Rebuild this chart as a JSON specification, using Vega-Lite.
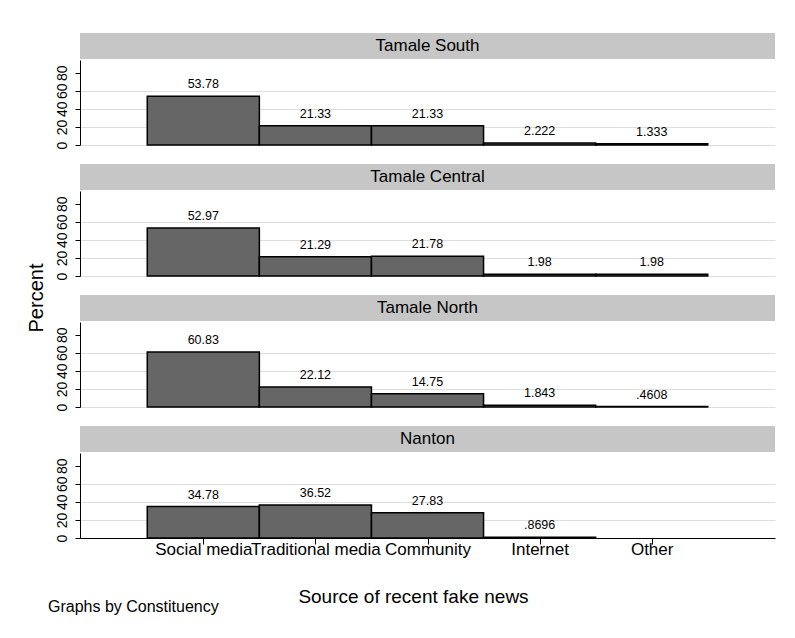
{
  "$schema": "https://vega.github.io/schema/vega-lite/v6.json",
  "autosize": {"type": "none"},
  "padding": {"left": 80, "top": 33, "right": 715, "bottom": 605},
  "background": "white",
  "config": {
    "font": "Liberation Sans",
    "view": {"stroke": null},
    "axisY": {"values": [0, 20, 40, 60, 80], "title": null, "grid": true, "gridColor": "#dddddd", "gridOpacity": {"condition": {"test": "datum.value >= 80", "value": 0}, "value": 1}, "domainColor": "black", "tickColor": "black", "tickSize": 5, "labelAngle": 270, "labelAlign": "center", "labelBaseline": "bottom", "labelPadding": 6, "labelFontSize": 14, "labelColor": "black", "labelOverlap": false}
  },
  "title": {"text": "Percent", "orient": "left", "anchor": "middle", "fontSize": 20, "fontWeight": "normal", "color": "black", "offset": 1, "dx": 26},
  "datasets": {
    "bars": [
      {"constituency": "Tamale South", "source": "Social media", "code": 1, "pct": 53.78},
      {"constituency": "Tamale South", "source": "Traditional media", "code": 2, "pct": 21.33},
      {"constituency": "Tamale South", "source": "Community", "code": 3, "pct": 21.33},
      {"constituency": "Tamale South", "source": "Internet", "code": 4, "pct": 2.222},
      {"constituency": "Tamale South", "source": "Other", "code": 5, "pct": 1.333},
      {"constituency": "Tamale Central", "source": "Social media", "code": 1, "pct": 52.97},
      {"constituency": "Tamale Central", "source": "Traditional media", "code": 2, "pct": 21.29},
      {"constituency": "Tamale Central", "source": "Community", "code": 3, "pct": 21.78},
      {"constituency": "Tamale Central", "source": "Internet", "code": 4, "pct": 1.98},
      {"constituency": "Tamale Central", "source": "Other", "code": 5, "pct": 1.98},
      {"constituency": "Tamale North", "source": "Social media", "code": 1, "pct": 60.83},
      {"constituency": "Tamale North", "source": "Traditional media", "code": 2, "pct": 22.12},
      {"constituency": "Tamale North", "source": "Community", "code": 3, "pct": 14.75},
      {"constituency": "Tamale North", "source": "Internet", "code": 4, "pct": 1.843},
      {"constituency": "Tamale North", "source": "Other", "code": 5, "pct": 0.4608},
      {"constituency": "Nanton", "source": "Social media", "code": 1, "pct": 34.78},
      {"constituency": "Nanton", "source": "Traditional media", "code": 2, "pct": 36.52},
      {"constituency": "Nanton", "source": "Community", "code": 3, "pct": 27.83},
      {"constituency": "Nanton", "source": "Internet", "code": 4, "pct": 0.8696}
    ]
  },
  "spacing": 15,
  "vconcat": [
    {
      "spacing": 1,
      "vconcat": [
        {"width": 695, "height": 26, "data": {"values": [{"constituency": "Tamale South"}]},
         "view": {"fill": "#c6c6c6", "stroke": null},
         "mark": {"type": "text", "fontSize": 17, "color": "black", "baseline": "middle", "align": "center"},
         "encoding": {"text": {"field": "constituency"}}},
        {"width": 695, "height": 85, "data": {"name": "bars"},
         "transform": [{"filter": "datum.constituency == 'Tamale South'"},
                       {"calculate": "datum.code - 0.5", "as": "lo"}, {"calculate": "datum.code + 0.5", "as": "hi"},
                       {"calculate": "datum.pct < 1 ? substring(format(datum.pct, '.4'), 1) : format(datum.pct, '.4')", "as": "lab"}],
         "encoding": {"y": {"field": "pct", "type": "quantitative", "scale": {"domain": [0, 94], "nice": false}}},
         "layer": [
           {"mark": {"type": "bar", "fill": "#666666", "stroke": "black", "strokeWidth": 1.5},
            "encoding": {
              "x": {"field": "lo", "type": "quantitative", "scale": {"domain": [-0.1, 6.1], "nice": false, "zero": false}, "axis": null},
              "x2": {"field": "hi"},
              "y2": {"datum": 0}}},
           {"mark": {"type": "text", "fontSize": 12.5, "dy": -8, "baseline": "alphabetic", "color": "black"},
            "encoding": {
              "x": {"field": "code", "type": "quantitative", "axis": null},
              "text": {"field": "lab"}}}
         ]}
      ]
    },
    {
      "spacing": 1,
      "vconcat": [
        {"width": 695, "height": 26, "data": {"values": [{"constituency": "Tamale Central"}]},
         "view": {"fill": "#c6c6c6", "stroke": null},
         "mark": {"type": "text", "fontSize": 17, "color": "black", "baseline": "middle", "align": "center"},
         "encoding": {"text": {"field": "constituency"}}},
        {"width": 695, "height": 85, "data": {"name": "bars"},
         "transform": [{"filter": "datum.constituency == 'Tamale Central'"},
                       {"calculate": "datum.code - 0.5", "as": "lo"}, {"calculate": "datum.code + 0.5", "as": "hi"},
                       {"calculate": "datum.pct < 1 ? substring(format(datum.pct, '.4'), 1) : format(datum.pct, '.4')", "as": "lab"}],
         "encoding": {"y": {"field": "pct", "type": "quantitative", "scale": {"domain": [0, 94], "nice": false}}},
         "layer": [
           {"mark": {"type": "bar", "fill": "#666666", "stroke": "black", "strokeWidth": 1.5},
            "encoding": {
              "x": {"field": "lo", "type": "quantitative", "scale": {"domain": [-0.1, 6.1], "nice": false, "zero": false}, "axis": null},
              "x2": {"field": "hi"},
              "y2": {"datum": 0}}},
           {"mark": {"type": "text", "fontSize": 12.5, "dy": -8, "baseline": "alphabetic", "color": "black"},
            "encoding": {
              "x": {"field": "code", "type": "quantitative", "axis": null},
              "text": {"field": "lab"}}}
         ]}
      ]
    },
    {
      "spacing": 1,
      "vconcat": [
        {"width": 695, "height": 26, "data": {"values": [{"constituency": "Tamale North"}]},
         "view": {"fill": "#c6c6c6", "stroke": null},
         "mark": {"type": "text", "fontSize": 17, "color": "black", "baseline": "middle", "align": "center"},
         "encoding": {"text": {"field": "constituency"}}},
        {"width": 695, "height": 85, "data": {"name": "bars"},
         "transform": [{"filter": "datum.constituency == 'Tamale North'"},
                       {"calculate": "datum.code - 0.5", "as": "lo"}, {"calculate": "datum.code + 0.5", "as": "hi"},
                       {"calculate": "datum.pct < 1 ? substring(format(datum.pct, '.4'), 1) : format(datum.pct, '.4')", "as": "lab"}],
         "encoding": {"y": {"field": "pct", "type": "quantitative", "scale": {"domain": [0, 94], "nice": false}}},
         "layer": [
           {"mark": {"type": "bar", "fill": "#666666", "stroke": "black", "strokeWidth": 1.5},
            "encoding": {
              "x": {"field": "lo", "type": "quantitative", "scale": {"domain": [-0.1, 6.1], "nice": false, "zero": false}, "axis": null},
              "x2": {"field": "hi"},
              "y2": {"datum": 0}}},
           {"mark": {"type": "text", "fontSize": 12.5, "dy": -8, "baseline": "alphabetic", "color": "black"},
            "encoding": {
              "x": {"field": "code", "type": "quantitative", "axis": null},
              "text": {"field": "lab"}}}
         ]}
      ]
    },
    {
      "spacing": 1,
      "vconcat": [
        {"width": 695, "height": 26, "data": {"values": [{"constituency": "Nanton"}]},
         "view": {"fill": "#c6c6c6", "stroke": null},
         "mark": {"type": "text", "fontSize": 17, "color": "black", "baseline": "middle", "align": "center"},
         "encoding": {"text": {"field": "constituency"}}},
        {"width": 695, "height": 85, "data": {"name": "bars"},
         "title": {"text": "Graphs by Constituency", "orient": "bottom", "anchor": "start", "fontSize": 16, "fontWeight": "normal", "color": "black", "dx": -7, "offset": -7},
         "transform": [{"filter": "datum.constituency == 'Nanton'"},
                       {"calculate": "datum.code - 0.5", "as": "lo"}, {"calculate": "datum.code + 0.5", "as": "hi"},
                       {"calculate": "datum.pct < 1 ? substring(format(datum.pct, '.4'), 1) : format(datum.pct, '.4')", "as": "lab"}],
         "encoding": {
           "x": {"field": "code", "type": "quantitative", "scale": {"domain": [-0.1, 6.1], "nice": false, "zero": false},
                 "axis": {"values": [1, 2, 3, 4, 5], "labelExpr": "['', 'Social media', 'Traditional media', 'Community', 'Internet', 'Other'][datum.value]", "title": "Source of recent fake news", "titleFontSize": 19, "titleFontWeight": "normal", "titleColor": "black", "titleX": 333, "titlePadding": 30, "grid": false, "domainColor": "black", "tickColor": "black", "tickSize": 6, "labelFontSize": 17, "labelPadding": -3, "labelFlush": false, "labelOverlap": false, "labelColor": "black"}},
           "y": {"field": "pct", "type": "quantitative", "scale": {"domain": [0, 94], "nice": false}}},
         "layer": [
           {"mark": {"type": "bar", "fill": "#666666", "stroke": "black", "strokeWidth": 1.5},
            "encoding": {
              "x": {"field": "lo", "type": "quantitative"},
              "x2": {"field": "hi"},
              "y2": {"datum": 0}}},
           {"mark": {"type": "text", "fontSize": 12.5, "dy": -8, "baseline": "alphabetic", "color": "black"},
            "encoding": {
              "text": {"field": "lab"}}}
         ]}
      ]
    }
  ]
}
